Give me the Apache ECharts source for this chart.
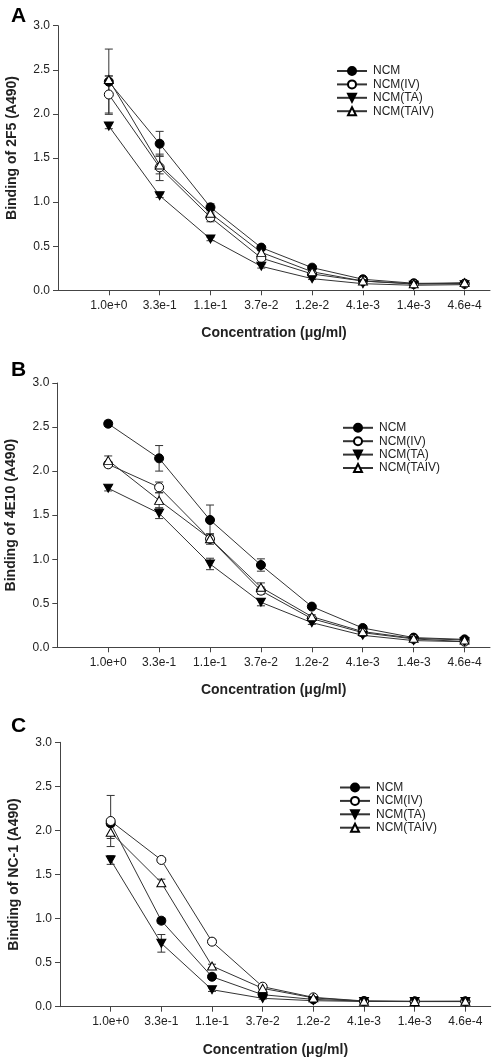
<!DOCTYPE html>
<html><head><meta charset="utf-8">
<script src="https://cdn.jsdelivr.net/npm/echarts@6/dist/echarts.min.js"></script>
<style>html,body{margin:0;padding:0;background:#fff}#c{width:498px;height:1061px}</style>
</head><body><div id="c"></div>
<script>
const categories = ['1.0e+0','3.3e-1','1.1e-1','3.7e-2','1.2e-2','4.1e-3','1.4e-3','4.6e-4'];
const seriesNames = ['NCM','NCM(IV)','NCM(TA)','NCM(TAIV)'];
const panelLetters = ['A','B','C'];
const yAxisNames = ['Binding of 2F5 (A490)','Binding of 4E10 (A490)','Binding of NC-1 (A490)'];
const xAxisName = 'Concentration (\u03bcg/ml)';
const yTicks = [0, 0.5, 1.0, 1.5, 2.0, 2.5, 3.0];

// Panel A (2F5)
const a_NCM      = [2.365, 1.662, 0.941, 0.484, 0.257, 0.125, 0.080, 0.075];
const a_IV       = [2.220, 1.394, 0.827, 0.366, 0.185, 0.105, 0.070, 0.075];
const a_TA       = [1.862, 1.073, 0.582, 0.272, 0.132, 0.075, 0.057, 0.064];
const a_TAIV     = [2.390, 1.420, 0.873, 0.430, 0.210, 0.105, 0.075, 0.087];
const a_NCM_err  = [0.37, 0.14, 0.04, 0.02, 0.02, 0.01, 0.01, 0.01];
const a_IV_err   = [0.21, 0.15, 0.05, 0.03, 0.01, 0.01, 0.01, 0.01];
const a_TA_err   = [0.03, 0.02, 0.02, 0.02, 0.01, 0.01, 0.01, 0.01];
const a_TAIV_err = [0.04, 0.10, 0.05, 0.02, 0.01, 0.01, 0.01, 0.01];

// Panel B (4E10)
const b_NCM      = [2.538, 2.145, 1.445, 0.934, 0.462, 0.219, 0.110, 0.090];
const b_IV       = [2.077, 1.816, 1.230, 0.643, 0.325, 0.166, 0.095, 0.064];
const b_TA       = [1.805, 1.521, 0.946, 0.511, 0.280, 0.136, 0.076, 0.064];
const b_TAIV     = [2.122, 1.668, 1.233, 0.681, 0.348, 0.178, 0.102, 0.083];
const b_NCM_err  = [0.03, 0.145, 0.17, 0.07, 0.02, 0.02, 0.01, 0.01];
const b_IV_err   = [0.03, 0.06, 0.06, 0.04, 0.02, 0.01, 0.01, 0.01];
const b_TA_err   = [0.03, 0.06, 0.065, 0.04, 0.02, 0.01, 0.01, 0.01];
const b_TAIV_err = [0.05, 0.085, 0.04, 0.05, 0.02, 0.01, 0.01, 0.01];

// Panel C (NC-1)
const c_NCM      = [2.080, 0.976, 0.340, 0.136, 0.083, 0.062, 0.060, 0.060];
const c_IV       = [2.107, 1.665, 0.738, 0.227, 0.106, 0.065, 0.060, 0.060];
const c_TA       = [1.665, 0.719, 0.193, 0.095, 0.068, 0.060, 0.058, 0.058];
const c_TAIV     = [1.979, 1.407, 0.462, 0.208, 0.100, 0.062, 0.060, 0.062];
const c_NCM_err  = [0.02, 0.03, 0.02, 0.01, 0.01, 0.01, 0.01, 0.01];
const c_IV_err   = [0.29, 0.02, 0.03, 0.02, 0.01, 0.01, 0.01, 0.01];
const c_TA_err   = [0.05, 0.10, 0.02, 0.01, 0.01, 0.01, 0.01, 0.01];
const c_TAIV_err = [0.07, 0.04, 0.02, 0.01, 0.01, 0.01, 0.01, 0.01];

const panels = [
  {vals:[a_NCM,a_IV,a_TA,a_TAIV], errs:[a_NCM_err,a_IV_err,a_TA_err,a_TAIV_err]},
  {vals:[b_NCM,b_IV,b_TA,b_TAIV], errs:[b_NCM_err,b_IV_err,b_TA_err,b_TAIV_err]},
  {vals:[c_NCM,c_IV,c_TA,c_TAIV], errs:[c_NCM_err,c_IV_err,c_TA_err,c_TAIV_err]}
];

const FONT = '"Liberation Sans", Arial, sans-serif';
const INK = '#222';
const AXIS = '#444';
const gridLayout = [
  {left:58, top:25.7, width:432, height:264.6},
  {left:57.3, top:383, width:432.7, height:264.3},
  {left:60, top:742.3, width:430.7, height:264.4}
];
const legendLayout = [
  {left:336, top:65},
  {left:342, top:421.8},
  {left:339, top:781.5}
];
const yNamePadding = [[0,0,0,20], 0, 0];
const letterPos = [{x:11, y:6}, {x:11, y:360}, {x:11, y:716}];

const symbols = [
  {symbol:'circle', fill:'#000', size:9},
  {symbol:'circle', fill:'#fff', size:9},
  {symbol:'path://M0,0L10,0L5,9Z', fill:'#000', size:[9,8]},
  {symbol:'triangle', fill:'#fff', size:[9,8]}
];

const grids = [], xAxes = [], yAxes = [], series = [], legends = [], graphics = [];
const tickIdx = categories.map((c,i)=>i);

panels.forEach((p, k) => {
  grids.push(Object.assign({containLabel:false, outerBoundsMode:'none'}, gridLayout[k]));
  xAxes.push({
    type:'value', gridIndex:k, min:-1, max:7.5,
    name:xAxisName, nameLocation:'middle', nameGap:36,
    nameTextStyle:{fontFamily:FONT, fontSize:14, fontWeight:'bold', color:INK},
    axisLine:{show:true, onZero:false, lineStyle:{color:AXIS, width:1}},
    axisTick:{show:true, length:5, lineStyle:{color:AXIS}, customValues:tickIdx},
    axisLabel:{fontFamily:FONT, fontSize:12, color:INK, margin:9, customValues:tickIdx,
      formatter:(v)=>categories[Math.round(v)] || ''},
    splitLine:{show:false}
  });
  yAxes.push({
    type:'value', gridIndex:k, min:0, max:3, interval:0.5,
    name:yAxisNames[k], nameLocation:'middle', nameGap:39,
    nameTextStyle:{fontFamily:FONT, fontSize:14, fontWeight:'bold', color:INK, padding:yNamePadding[k]},
    axisLine:{show:true, onZero:false, lineStyle:{color:AXIS, width:1}},
    axisTick:{show:true, length:5, lineStyle:{color:AXIS}, customValues:yTicks},
    axisLabel:{fontFamily:FONT, fontSize:12, color:INK, margin:8, customValues:yTicks,
      formatter:(v)=>v.toFixed(1)},
    splitLine:{show:false}
  });
  p.vals.forEach((vals, s) => {
    const errs = p.errs[s];
    series.push({
      type:'custom', name:'err'+k+'_'+s, xAxisIndex:k, yAxisIndex:k, z:1, silent:true,
      data: vals.map((v,i)=>[i, v-errs[i], v+errs[i]]),
      encode:{x:0, y:[1,2]},
      renderItem:(params, api)=>{
        const x = api.value(0);
        const lo = api.coord([x, api.value(1)]);
        const hi = api.coord([x, api.value(2)]);
        const w = 4;
        const st = {stroke:'#333', lineWidth:1};
        return {type:'group', children:[
          {type:'line', shape:{x1:hi[0], y1:hi[1], x2:lo[0], y2:lo[1]}, style:st},
          {type:'line', shape:{x1:hi[0]-w, y1:hi[1], x2:hi[0]+w, y2:hi[1]}, style:st},
          {type:'line', shape:{x1:lo[0]-w, y1:lo[1], x2:lo[0]+w, y2:lo[1]}, style:st}
        ]};
      }
    });
  });
  p.vals.forEach((vals, s) => {
    series.push({
      type:'line', name:seriesNames[s], xAxisIndex:k, yAxisIndex:k, z:3,
      data: vals.map((v,i)=>[i, v]),
      symbol:symbols[s].symbol, symbolSize:symbols[s].size, showAllSymbol:true,
      lineStyle:{color:'#333', width:1},
      itemStyle:{color:symbols[s].fill, borderColor:'#000', borderWidth:1},
      emphasis:{disabled:true},
      animation:false
    });
  });
  legends.push({
    data: seriesNames, orient:'vertical', left:legendLayout[k].left, top:legendLayout[k].top,
    itemWidth:30, itemHeight:10, itemGap:1.4, selectedMode:false,
    textStyle:{fontFamily:FONT, fontSize:12, color:INK, padding:[0,0,0,1]},
    padding:0
  });
  graphics.push({
    type:'text', left:letterPos[k].x, top:letterPos[k].y,
    style:{text:panelLetters[k], font:'bold 21px ' + FONT, fill:'#000'}
  });
});

const chart = echarts.init(document.getElementById('c'), null, {renderer:'canvas'});
chart.setOption({
  animation:false,
  backgroundColor:'#fff',
  grid:grids, xAxis:xAxes, yAxis:yAxes, series:series, legend:legends,
  graphic:graphics
});
</script>
</body></html>
